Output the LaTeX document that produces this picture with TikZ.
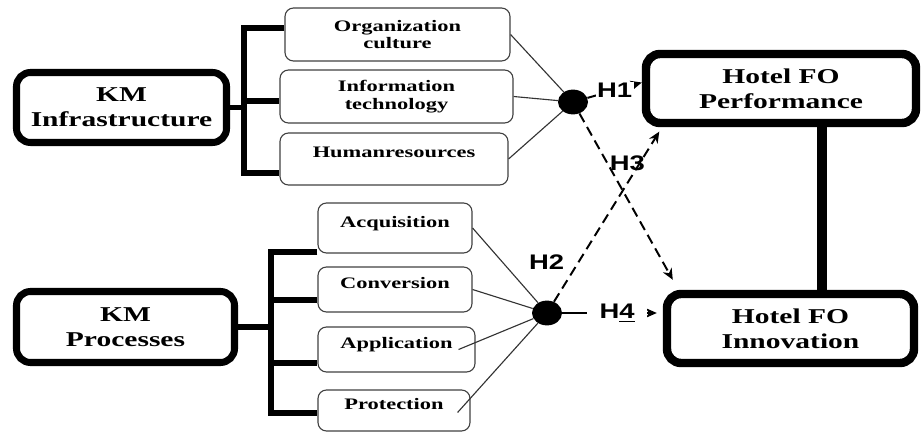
\documentclass[tikz,border=0pt]{standalone}
\usepackage{fontspec}
\setmainfont{Liberation Serif}
\newfontfamily\boxfont[FakeStretch=1.4]{Liberation Serif}
\newfontfamily\hypfont[FakeStretch=1.3]{Liberation Sans}
\usetikzlibrary{arrows.meta,positioning,shapes.geometric}

\begin{document}
\begin{tikzpicture}[
    construct/.style={draw, line width=5pt, rounded corners=10pt, align=center, fill=white, font=\boxfont\bfseries\fontsize{15}{17.8}\selectfont},
    outcome/.style={construct, line width=6pt},
    item/.style={draw=black!75, line width=0.8pt, rounded corners=6pt, align=center, font=\boxfont\bfseries\fontsize{11.4}{12.5}\selectfont},
    oneline/.style={item, text depth=9pt},
    hub/.style={ellipse, fill=black, inner sep=0pt, minimum width=0.75cm, minimum height=0.62cm},
    bracket/.style={line width=3.8pt},
    spoke/.style={draw=black!80, line width=0.8pt},
    hyp/.style={line width=1.4pt, -{Stealth[length=8pt,width=7pt]}},
    hypdash/.style={hyp, dash pattern=on 7pt off 4pt},
    hlabel/.style={font=\hypfont\bfseries\fontsize{15}{16}\selectfont, inner sep=1pt},
    tie/.style={line width=7pt},
    on grid
]
    \useasboundingbox (0,0) rectangle (23.025,-10.8);

    \node[construct, minimum width=5.25cm, minimum height=1.75cm] (infra) at (3.0375,-2.6875) {KM\\Infrastructure};
    \node[construct, minimum width=5.45cm, minimum height=1.775cm, below=5.4875cm of infra, xshift=0.1cm] (procs) {KM\\Processes};

    \node[item, minimum width=5.825cm, minimum height=1.325cm, right=6.875cm of infra, yshift=0.275cm] (it) {Information\\technology};
    \node[item, minimum width=5.625cm, minimum height=1.325cm, above=1.55cm of it, xshift=0.025cm] (org) {Organization\\culture};
    \node[oneline, minimum width=5.7cm, minimum height=1.3cm, below=1.5625cm of it, xshift=-0.0625cm] (hr) {Humanresources};

    \node[oneline, minimum width=3.85cm, minimum height=1.25cm, above right=2.475cm and 6.7375cm of procs] (acq) {Acquisition};
    \node[oneline, minimum width=3.85cm, minimum height=1.125cm, below=1.5375cm of acq] (conv) {Conversion};
    \node[oneline, minimum width=3.925cm, minimum height=1.125cm, below=1.5cm of conv, xshift=0.0375cm] (appl) {Application};
    \node[oneline, minimum width=3.8cm, minimum height=1.025cm, below=1.525cm of appl, xshift=-0.0625cm] (prot) {Protection};

    \node[hub, right=4.4125cm of it, yshift=-0.1375cm] (dot1) {};
    \node[hub, right=3.8cm of conv, yshift=-0.5875cm] (dot2) {};

    \node[outcome, minimum width=6.75cm, minimum height=1.725cm, right=5.2cm of dot1, yshift=0.3375cm] (perf) {Hotel FO\\Performance};
    \node[outcome, minimum width=6.175cm, minimum height=1.725cm, right=6.0875cm of dot2, yshift=-0.3875cm] (innov) {Hotel FO\\Innovation};

    % brackets
    \draw[bracket] ([yshift=0.1625cm]org.west) -| ([xshift=0.35cm]infra.east) |- ([yshift=-0.35cm]hr.west);
    \draw[bracket] (infra.east) -- ++(0.35cm,0) |- ([yshift=-0.1125cm]it.west);
    \draw[bracket] ([yshift=-0.6cm]acq.west) -| ([xshift=0.825cm]procs.east) |- ([yshift=-0.0625cm]prot.west);
    \draw[bracket] (procs.east) -- ++(0.825cm,0) |- ([yshift=-0.2625cm]conv.west);
    \draw[bracket] ([xshift=0.825cm]procs.east) |- ([yshift=-0.3375cm]appl.west);

    % spokes
    \foreach \src in {org, it, hr} \draw[spoke] (\src.east) -- (dot1);
    \foreach \src in {acq, conv} \draw[spoke] (\src.east) -- (dot2);
    \draw[spoke] ([xshift=-0.425cm]appl.east) -- (dot2);
    \draw[spoke] ([xshift=-0.325cm,yshift=-0.05cm]prot.east) -- (dot2);

    % hypotheses
    \draw[hyp] (dot1) -- node[hlabel, fill=white, pos=0.5] {H1} ([yshift=0.15cm]perf.west);
    \draw[hypdash] (dot2) -- node[hlabel, pos=0.234, anchor=east, xshift=-0.3cm] {H2} ([xshift=0.4375cm,yshift=-0.11cm]perf.south west);
    \draw[hypdash] (dot1) -- node[hlabel, pos=0.3, anchor=west] {H3} ([xshift=0.25cm,yshift=0.25cm]innov.north west);
    \draw[hyp] (dot2) -- node[hlabel, fill=white, minimum width=1.5cm, pos=0.58] {H\underline{4}} ([xshift=-0.15cm,yshift=0.3875cm]innov.west);

    \coordinate (pv) at ([xshift=1.025cm]perf.south);
    \draw[tie] (pv) -- (pv |- innov.north);
\end{tikzpicture}
\end{document}
